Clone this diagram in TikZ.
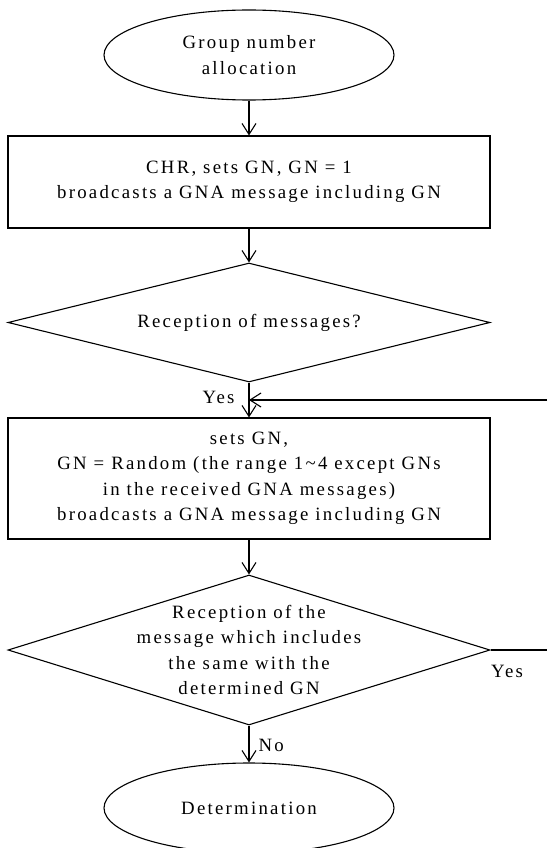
\documentclass[tikz,border=0pt]{standalone}
\usepackage{fontspec}
\setmainfont{Liberation Serif}[LetterSpace=12]
\usetikzlibrary{shapes.geometric,arrows.meta}
\tikzset{
  x=1pt, y=-1pt,
  every node/.style={font=\fontsize{18.8}{25.5}\selectfont},
  terminal/.style={draw, ellipse, line width=1.1pt, minimum width=290pt, minimum height=90pt, inner sep=0pt, align=center},
  process/.style={draw, rectangle, line width=1.1pt, minimum width=482pt, inner sep=0pt, align=center},
  decision/.style={draw, diamond, line width=1.1pt, inner sep=0pt},
  caption/.style={inner sep=0pt, align=center},
  flow/.style={line width=1.1pt, -{Straight Barb[length=11pt,width=14pt,line width=1.1pt]}},
  link/.style={line width=1.1pt},
}
\begin{document}
\begin{tikzpicture}
\useasboundingbox (0,0) rectangle (547,848);
\fill[white] (0,0) rectangle (547,848);

% start terminal
\node[terminal] (start) at (249,55) {Group number\\allocation};

% first process: CHR sets GN = 1
\node[process, minimum height=92pt] (chr) at (249,182) {CHR, sets GN, GN = 1\\broadcasts a GNA message including GN};

% first decision
\node[decision, minimum width=482pt, minimum height=119pt] (recv) at (249,322.5) {};
\node[caption] (recvtxt) at (recv) {Reception of messages?};

% second process: random GN
\node[process, minimum height=121pt] (rnd) at (249,478.5) {sets GN,\\GN = Random (the range 1\char"007E 4 except GNs\\in the received GNA messages)\\broadcasts a GNA message including GN};

% second decision
\node[decision, minimum width=482pt, minimum height=150pt] (same) at (249,650) {};
\node[caption] (sametxt) at (same) {Reception of the\\message which includes\\the same with the\\determined GN};

% end terminal
\node[terminal] (done) at (249,808) {Determination};

% connectors
\draw[flow] (start) -- (chr);
\draw[flow] (chr) -- (recv.north);
\draw[flow] (recv.south) -- node[pos=0.42, left=14pt, inner sep=0pt] (yes1) {Yes} (rnd.north);
\draw[flow] (rnd) -- (same.north);
\draw[flow] (same.south) -- node[pos=0.55, right=9pt, inner sep=0pt] (no) {No} (done.north);

% loop back on the Yes branch of the second decision
\coordinate (loopout) at (547,650);
\coordinate (loopin) at (547,400);
\coordinate (merge) at (recv.south |- loopin);
\draw[link] (same.east) -- (loopout);
\draw[flow] (loopin) -- (merge);
\node[inner sep=0pt] (yes2) at (507,671) {Yes};
\end{tikzpicture}
\end{document}
